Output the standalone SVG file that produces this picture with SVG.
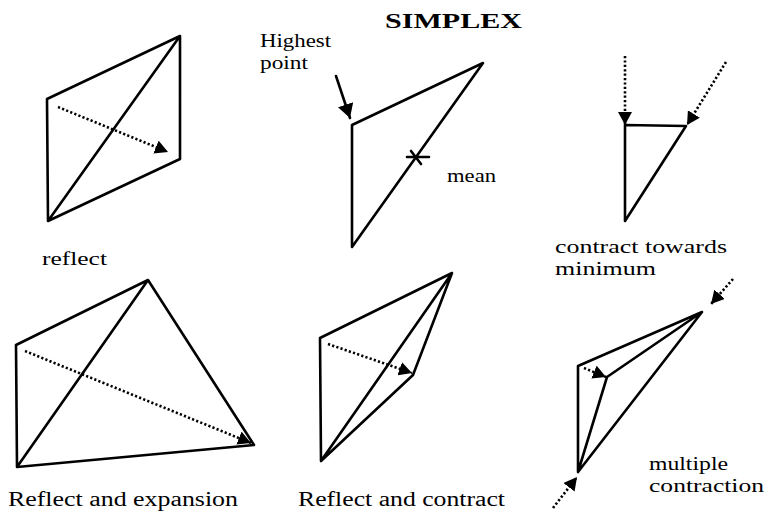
<svg xmlns="http://www.w3.org/2000/svg" width="765" height="515" viewBox="0 0 765 515">
<style>
.s{fill:none;stroke:#000;stroke-width:2.6;stroke-linejoin:round;stroke-linecap:round}
.d{fill:none;stroke:#000;stroke-width:2.6;stroke-dasharray:2.2 2.2}
.t{font-family:"Liberation Serif","Times New Roman",serif;fill:#000}
</style>
<defs>
<marker id="ah" markerUnits="userSpaceOnUse" markerWidth="13" markerHeight="14" refX="13" refY="7" orient="auto"><path d="M0,0 L13,7 L0,14 z" fill="#000"/></marker>
<marker id="ahb" markerUnits="userSpaceOnUse" markerWidth="14" markerHeight="16" refX="14" refY="8" orient="auto"><path d="M0,0 L14,8 L0,16 z" fill="#000"/></marker>
</defs>
<rect width="765" height="515" fill="#fff"/>
<text class="t" x="385" y="28" font-size="22" font-weight="bold" textLength="137" lengthAdjust="spacingAndGlyphs">SIMPLEX</text>

<g id="reflect">
<path class="s" d="M47,99 L180,36 L180,159 L48,221 Z M48,221 L180,36"/>
<text class="t" x="42" y="265" font-size="19" textLength="65" lengthAdjust="spacingAndGlyphs">reflect</text>
</g>

<g id="start">
<path class="s" d="M352,125 L483,63 L352,247 Z"/>
<path class="s" d="M407,157 L429,157 M411,151 L421,164"/>
<text class="t" x="260" y="47" font-size="18" textLength="71" lengthAdjust="spacingAndGlyphs">Highest</text>
<text class="t" x="260" y="69" font-size="18" textLength="48" lengthAdjust="spacingAndGlyphs">point</text>
<text class="t" x="447" y="182" font-size="18" textLength="49" lengthAdjust="spacingAndGlyphs">mean</text>
</g>

<g id="contract-min">
<path class="s" d="M625,125 L686,126 L625,221 Z"/>
<text class="t" x="555" y="253" font-size="19" textLength="172" lengthAdjust="spacingAndGlyphs">contract towards</text>
<text class="t" x="555" y="275" font-size="19" textLength="101" lengthAdjust="spacingAndGlyphs">minimum</text>
</g>

<g id="expansion">
<path class="s" d="M16,345 L148,280 L254,445 L17,467 Z M17,467 L148,280"/>
<text class="t" x="8" y="506" font-size="20" textLength="230" lengthAdjust="spacingAndGlyphs">Reflect and expansion</text>
</g>

<g id="contraction">
<path class="s" d="M320,338 L452,273 L321,461 Z M452,273 L413,375 L321,461"/>
<text class="t" x="298" y="506" font-size="20" textLength="207" lengthAdjust="spacingAndGlyphs">Reflect and contract</text>
</g>

<g id="multiple">
<path class="s" d="M578,366 L702,312 L578,472 Z M702,312 L607,377 L578,472"/>
<text class="t" x="649" y="470" font-size="18" textLength="79" lengthAdjust="spacingAndGlyphs">multiple</text>
<text class="t" x="649" y="492" font-size="18" textLength="115" lengthAdjust="spacingAndGlyphs">contraction</text>
</g>

<g id="connectors">
<line class="d" x1="58" y1="107" x2="168" y2="152" marker-end="url(#ah)"/>
<line class="s" x1="336" y1="76" x2="350" y2="118" stroke-width="3.5" marker-end="url(#ahb)"/>
<line class="d" x1="625" y1="56" x2="625" y2="125" marker-end="url(#ah)"/>
<line class="d" x1="726" y1="62" x2="687" y2="125" marker-end="url(#ah)"/>
<line class="d" x1="25" y1="351" x2="251" y2="443" marker-end="url(#ah)"/>
<line class="d" x1="328" y1="344" x2="412" y2="373" marker-end="url(#ah)"/>
<line class="d" x1="584" y1="368" x2="606" y2="377" marker-end="url(#ah)"/>
<line class="d" x1="733" y1="279" x2="711" y2="304" marker-end="url(#ah)"/>
<line class="d" x1="553" y1="508" x2="577" y2="477" marker-end="url(#ah)"/>
</g>
</svg>
